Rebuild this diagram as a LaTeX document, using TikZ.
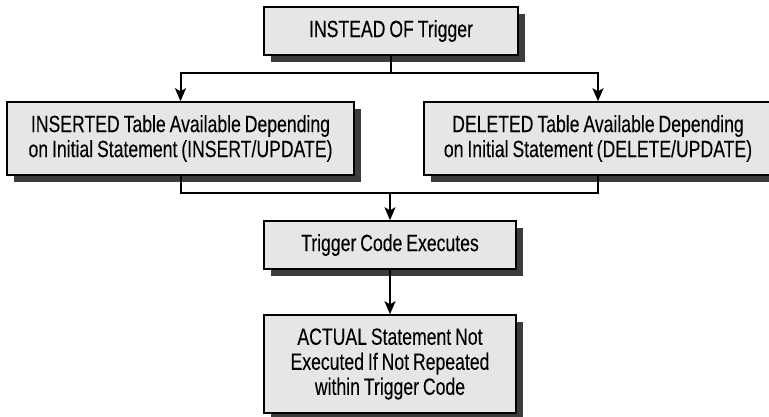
\documentclass[tikz,border=0pt]{standalone}
\usepackage{fontspec}
\setmainfont{Liberation Sans}[FakeStretch=0.75, WordSpace=0.8, FakeBold=0.12]
\usetikzlibrary{arrows.meta,shadows}
\definecolor{boxfill}{HTML}{E6E6E6}
\definecolor{shadowgray}{HTML}{3C3C3C}
\tikzset{
  box/.style={draw=black, line width=1.5pt, fill=boxfill, rectangle, inner sep=0pt,
    align=center, font=\fontsize{23.5}{25}\selectfont,
    general shadow={fill=shadowgray, shadow xshift=7pt, shadow yshift=-7pt}},
  conn/.style={line width=2pt, black},
  arr/.style={conn, -{Stealth[length=13pt,width=11pt,inset=3pt]}}
}
\begin{document}
\begin{tikzpicture}[x=1pt,y=-1pt]
\useasboundingbox (0,0) rectangle (769,416);
\clip (0,0) rectangle (769,416);
\node[box, minimum width=254pt, minimum height=48pt] (top) at (391,31) {INSTEAD OF Trigger};
\node[box, minimum width=347pt, minimum height=73pt] (ins) at (180.5,138.5) {INSERTED Table Available Depending\\on Initial Statement (INSERT/UPDATE)};
\node[box, minimum width=348pt, minimum height=73pt] (del) at (598,138.5) {DELETED Table Available Depending\\on Initial Statement (DELETE/UPDATE)};
\node[box, minimum width=252pt, minimum height=48pt] (code) at (390,245) {Trigger Code Executes};
\node[box, minimum width=252pt, minimum height=98pt] (act) at (390,364) {ACTUAL Statement Not\\Executed If Not Repeated\\within Trigger Code};
\coordinate (split) at (391,73);
\coordinate (join) at (390,193);
\draw[conn] (top.south) -- (split);
\draw[arr] (split) -| (ins.north);
\draw[arr] (split) -| (del.north);
\draw[conn] (ins.south) |- (join);
\draw[conn] (del.south) |- (join);
\draw[arr] (join) -- (code.north);
\draw[arr] (code.south) -- (act.north);
\end{tikzpicture}
\end{document}
